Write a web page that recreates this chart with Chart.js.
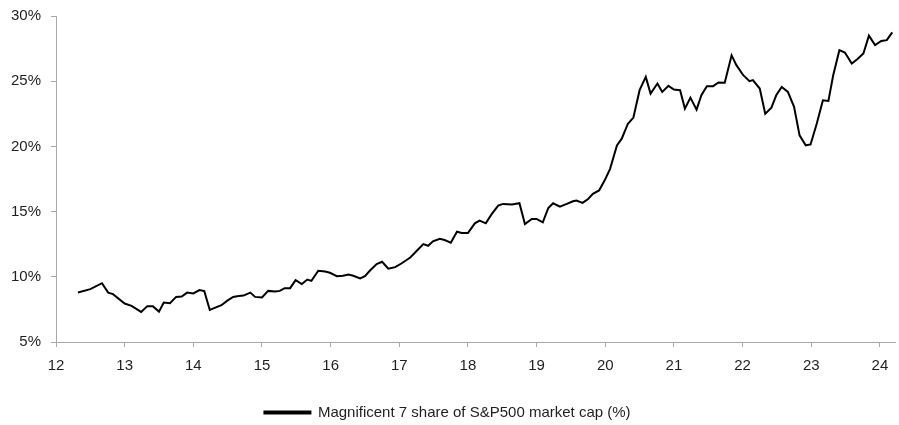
<html lang="en">
<head>
  <meta charset="UTF-8">
  <title>Magnificent 7 share of S&amp;P500</title>
  <script src="https://cdn.jsdelivr.net/npm/chart.js"></script>
  <style>
    body, html {
      margin: 0;
      padding: 0;
      background-color: #ffffff;
    }
    .chart-container {
      width: 899px;
      height: 425px;
    }
  </style>
</head>
<body>
  <div class="chart-container"><canvas id="myChart" width="899" height="425"></canvas></div>

  <script>
    // x = year (12 = 2012)
    const years = [
      12.32, 12.50, 12.67, 12.76, 12.83, 13.00, 13.10, 13.24, 13.33, 13.41,
      13.50, 13.57, 13.66, 13.75, 13.83, 13.91, 14.00, 14.09, 14.16, 14.24,
      14.32, 14.41, 14.49, 14.58, 14.66, 14.73, 14.83, 14.90, 15.00, 15.09,
      15.19, 15.26, 15.33, 15.41, 15.49, 15.58, 15.66, 15.72, 15.82, 15.92,
      15.99, 16.09, 16.18, 16.26, 16.33, 16.43, 16.50, 16.57, 16.67, 16.75,
      16.84, 16.94, 17.03, 17.16, 17.28, 17.35, 17.42, 17.49, 17.59, 17.66,
      17.75, 17.84, 17.91, 18.00, 18.10, 18.17, 18.26, 18.34, 18.44, 18.51,
      18.64, 18.75, 18.83, 18.93, 19.00, 19.09, 19.17, 19.24, 19.34, 19.44,
      19.53, 19.58, 19.67, 19.75, 19.82, 19.91, 19.99, 20.07, 20.17, 20.24,
      20.33, 20.41, 20.50, 20.59, 20.66, 20.76, 20.83, 20.92, 21.00, 21.09,
      21.16, 21.24, 21.33, 21.40, 21.48, 21.57, 21.65, 21.74, 21.84, 21.91,
      22.01, 22.10, 22.15, 22.25, 22.33, 22.42, 22.49, 22.57, 22.66, 22.75,
      22.83, 22.92, 22.99, 23.08, 23.17, 23.25, 23.32, 23.41, 23.49, 23.59,
      23.67, 23.76, 23.84, 23.93, 24.02, 24.10, 24.18
    ];
    // share of S&P500 market cap, %
    const share = [
      8.79, 9.05, 9.51, 8.79, 8.67, 7.95, 7.77, 7.31, 7.75, 7.75,
      7.33, 8.02, 7.98, 8.46, 8.49, 8.79, 8.72, 8.98, 8.90, 7.46,
      7.64, 7.82, 8.15, 8.45, 8.52, 8.56, 8.79, 8.46, 8.41, 8.92,
      8.87, 8.92, 9.13, 9.13, 9.74, 9.44, 9.79, 9.69, 10.46, 10.41,
      10.31, 10.05, 10.08, 10.18, 10.08, 9.87, 10.05, 10.46, 10.97, 11.15,
      10.62, 10.74, 11.02, 11.48, 12.13, 12.51, 12.38, 12.72, 12.92, 12.82,
      12.62, 13.46, 13.36, 13.36, 14.10, 14.31, 14.10, 14.77, 15.46, 15.59,
      15.54, 15.64, 14.05, 14.44, 14.44, 14.18, 15.28, 15.64, 15.38, 15.59,
      15.79, 15.85, 15.67, 15.97, 16.36, 16.62, 17.38, 18.28, 20.08, 20.59,
      21.74, 22.21, 24.31, 25.33, 24.05, 24.82, 24.18, 24.64, 24.36, 24.31,
      22.90, 23.74, 22.82, 23.92, 24.62, 24.62, 24.90, 24.88, 26.98, 26.23,
      25.46, 25.00, 25.08, 24.44, 22.51, 22.97, 23.92, 24.56, 24.18, 23.03,
      20.85, 20.08, 20.15, 21.74, 23.54, 23.49, 25.46, 27.38, 27.20, 26.36,
      26.69, 27.13, 28.49, 27.77, 28.08, 28.15, 28.74
    ];
    const xTicks = [12, 13, 14, 15, 16, 17, 18, 19, 20, 21, 22, 23, 24];
    const yTicks = [5, 10, 15, 20, 25, 30];
    const seriesLabel = 'Magnificent 7 share of S&P500 market cap (%)';

    const axisGrey = '#a8a8a8';
    const textColor = '#1f1f1f';
    const fontFamily = '"Liberation Sans", Arial, sans-serif';

    const points = years.map((x, i) => ({ x: x, y: share[i] }));

    const ctx = document.getElementById('myChart').getContext('2d');
    const myChart = new Chart(ctx, {
      type: 'line',
      data: {
        datasets: [{
          label: seriesLabel,
          data: points,
          borderColor: '#000000',
          backgroundColor: '#000000',
          borderWidth: 2,
          pointRadius: 0,
          tension: 0
        }]
      },
      options: {
        responsive: false,
        animation: false,
        layout: {
          padding: { top: 16, right: 4, bottom: -5, left: 0 }
        },
        scales: {
          x: {
            type: 'linear',
            min: 12,
            max: 24.22,
            afterBuildTicks: scale => { scale.ticks = xTicks.map(v => ({ value: v })); },
            afterFit: scale => { scale.height = 61; },
            border: { color: axisGrey, width: 1 },
            grid: { drawOnChartArea: false, drawTicks: true, tickLength: 5, color: axisGrey },
            ticks: {
              color: textColor,
              font: { family: fontFamily, size: 15 },
              padding: 10,
              maxRotation: 0
            }
          },
          y: {
            min: 5,
            max: 30,
            afterBuildTicks: scale => { scale.ticks = yTicks.map(v => ({ value: v })); },
            afterFit: scale => {
              scale.width = 56;
              scale.paddingTop = 0;
              scale.paddingBottom = 0;
            },
            border: { color: axisGrey, width: 1 },
            grid: { drawOnChartArea: false, drawTicks: true, tickLength: 5, color: axisGrey },
            ticks: {
              color: textColor,
              font: { family: fontFamily, size: 15 },
              padding: 10,
              callback: v => v + '%'
            }
          }
        },
        plugins: {
          title: { display: false },
          tooltip: { enabled: false },
          legend: {
            display: true,
            position: 'bottom',
            labels: {
              color: textColor,
              font: { family: fontFamily, size: 15 },
              boxWidth: 46,
              boxHeight: 2,
              padding: 2
            }
          }
        }
      }
    });
  </script>
</body>
</html>
